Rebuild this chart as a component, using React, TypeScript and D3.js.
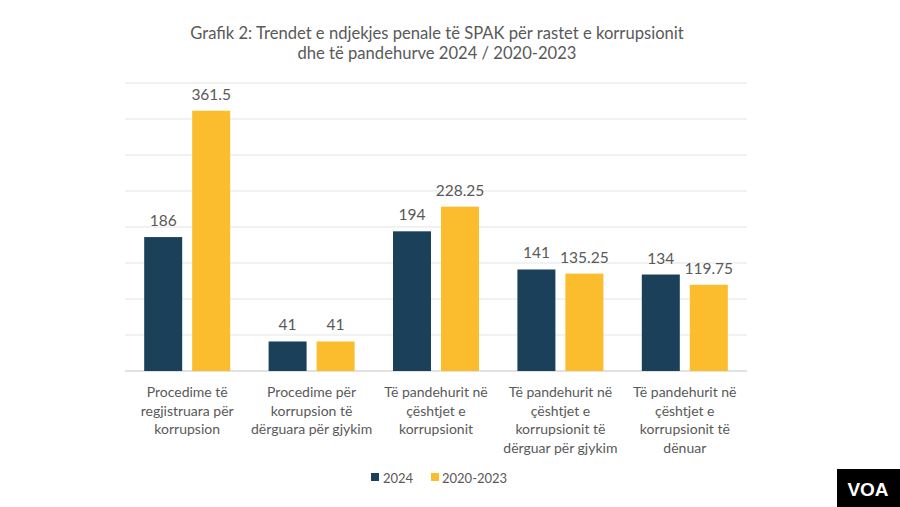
import React from "react";
import * as d3 from "d3";

const categories: string[][] = [
  ["Procedime të", "regjistruara për", "korrupsion"],
  ["Procedime për", "korrupsion të", "dërguara për gjykim"],
  ["Të pandehurit në", "çështjet e", "korrupsionit"],
  ["Të pandehurit në", "çështjet e", "korrupsionit të", "dërguar për gjykim"],
  ["Të pandehurit në", "çështjet e", "korrupsionit të", "dënuar"],
];
const values2024 = [186, 41, 194, 141, 134];
const values2020_2023 = [361.5, 41, 228.25, 135.25, 119.75];
const seriesNames = ["2024", "2020-2023"];
const labels2024 = ["186", "41", "194", "141", "134"];
const labels2020 = ["361.5", "41", "228.25", "135.25", "119.75"];
const gridTicks = [0, 50, 100, 150, 200, 250, 300, 350, 400];
const titleLines = [
  "Grafik 2: Trendet e ndjekjes penale të SPAK për rastet e korrupsionit",
  "dhe të pandehurve 2024 / 2020-2023",
];

const W = 900;
const H = 507;
const colors = ["#1b4059", "#fbbc2d"];
const font = "Lato, 'Open Sans', sans-serif";
const textColor = "#595959";

export default function App() {
  const x = d3
    .scaleBand<number>()
    .domain(d3.range(categories.length))
    .range([125, 747])
    .paddingInner(0)
    .paddingOuter(0);
  const y = d3.scaleLinear().domain([0, 400]).range([371, 83]);
  const barW = 38;
  const gap = 10;
  const series = [values2024, values2020_2023];
  const seriesLabels = [labels2024, labels2020];

  return (
    <svg
      width={W}
      height={H}
      style={{ position: "absolute", left: 0, top: 0, background: "#fff" }}
      fontFamily={font}
    >
      <rect x={0} y={0} width={W} height={H} fill="#fff" />
      {titleLines.map((t, i) => (
        <text
          key={i}
          x={437}
          y={39 + i * 20}
          textAnchor="middle"
          fontSize={16.6}
          fill={textColor}
        >
          {t}
        </text>
      ))}
      {gridTicks.map((t) => (
        <line
          key={t}
          x1={125}
          x2={747}
          y1={y(t)}
          y2={y(t)}
          stroke={t === 0 ? "#d9d9d9" : "#e5e5e5"}
          strokeWidth={t === 0 ? 1.5 : 1.2}
        />
      ))}
      {categories.map((_, i) => {
        const cx = (x(i) as number) + x.bandwidth() / 2;
        return series.map((s, j) => {
          const bx = j === 0 ? cx - gap / 2 - barW : cx + gap / 2;
          return (
            <g key={`${i}-${j}`}>
              <rect
                x={bx}
                y={y(s[i])}
                width={barW}
                height={y(0) - y(s[i])}
                fill={colors[j]}
              />
              <text
                x={bx + barW / 2}
                y={y(s[i]) - 11}
                textAnchor="middle"
                fontSize={15.5}
                fill={textColor}
              >
                {seriesLabels[j][i]}
              </text>
            </g>
          );
        });
      })}
      {categories.map((lines, i) => {
        const cx = (x(i) as number) + x.bandwidth() / 2;
        return (
          <text
            key={i}
            x={cx}
            textAnchor="middle"
            fontSize={14}
            fill={textColor}
          >
            {lines.map((l, k) => (
              <tspan key={k} x={cx} y={397 + k * 18.5}>
                {l}
              </tspan>
            ))}
          </text>
        );
      })}
      <g>
        <rect x={371} y={473} width={8} height={8} fill={colors[0]} />
        <text x={383} y={482.5} fontSize={13} fill={textColor}>
          {seriesNames[0]}
        </text>
        <rect x={431} y={473} width={8} height={8} fill={colors[1]} />
        <text x={442} y={482.5} fontSize={13} fill={textColor}>
          {seriesNames[1]}
        </text>
      </g>
      <rect x={837} y={469} width={63} height={38} fill="#000" />
      <text
        x={868}
        y={496}
        textAnchor="middle"
        fontSize={19}
        fontWeight="bold"
        fill="#fff"
        fontFamily="'Liberation Sans', Arial, sans-serif"
      >
        VOA
      </text>
    </svg>
  );
}
